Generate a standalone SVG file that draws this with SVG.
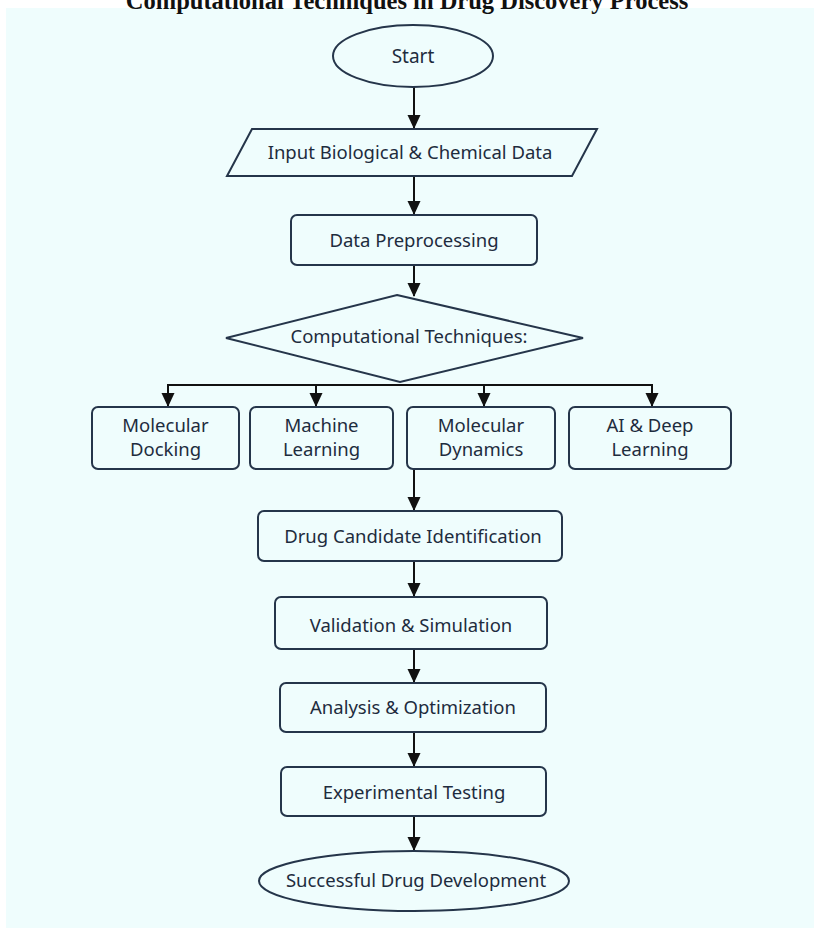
<svg xmlns="http://www.w3.org/2000/svg" width="814" height="929" viewBox="0 0 814 929">
<defs>
<style>
.shape{fill:none;stroke:#25354a;stroke-width:2}
.lbl{font-family:"Noto Sans","Open Sans",sans-serif;font-size:18.5px;fill:#1e2c3e;text-anchor:middle}
.conn{fill:none;stroke:#111;stroke-width:2}
.title{font-family:"Liberation Serif","Times New Roman",serif;font-weight:bold;font-size:24.5px;fill:#111;text-anchor:middle}
</style>
<marker id="ah" markerUnits="userSpaceOnUse" markerWidth="14" markerHeight="14" refX="13" refY="7" orient="auto">
<path d="M0,0.5 L14,7 L0,13.5 z" fill="#111"/>
</marker>
</defs>
<rect x="0" y="0" width="814" height="929" fill="#ffffff"/>
<rect x="6" y="8" width="808" height="920" fill="#effdfd"/>
<text class="title" x="407" y="9">Computational Techniques in Drug Discovery Process</text>

<g id="connectors">
<line class="conn" x1="414" y1="87" x2="414" y2="128" marker-end="url(#ah)"/>
<line class="conn" x1="414" y1="176" x2="414" y2="214" marker-end="url(#ah)"/>
<line class="conn" x1="414" y1="265" x2="414" y2="296" marker-end="url(#ah)"/>
<line class="conn" x1="168" y1="385" x2="652" y2="385"/>
<line class="conn" x1="168" y1="384" x2="168" y2="406" marker-end="url(#ah)"/>
<line class="conn" x1="316" y1="384" x2="316" y2="406" marker-end="url(#ah)"/>
<line class="conn" x1="484" y1="384" x2="484" y2="406" marker-end="url(#ah)"/>
<line class="conn" x1="652" y1="384" x2="652" y2="406" marker-end="url(#ah)"/>
<line class="conn" x1="414" y1="469" x2="414" y2="510" marker-end="url(#ah)"/>
<line class="conn" x1="414" y1="561" x2="414" y2="596" marker-end="url(#ah)"/>
<line class="conn" x1="414" y1="649" x2="414" y2="682" marker-end="url(#ah)"/>
<line class="conn" x1="414" y1="732" x2="414" y2="766" marker-end="url(#ah)"/>
<line class="conn" x1="414" y1="816" x2="414" y2="850" marker-end="url(#ah)"/>
</g>

<g id="start">
<ellipse class="shape" cx="413" cy="56" rx="80" ry="31"/>
<text class="lbl" x="413" y="63" style="font-size:19px">Start</text>
</g>
<g id="input">
<polygon class="shape" points="252,129 597,129 572,176 227,176"/>
<text class="lbl" x="410" y="159">Input Biological &amp; Chemical Data</text>
</g>
<g id="preprocess">
<rect class="shape" x="291" y="215" width="246" height="50" rx="6"/>
<text class="lbl" x="414" y="247">Data Preprocessing</text>
</g>
<g id="techniques">
<polygon class="shape" points="397,295 583,338 400,382 226,338"/>
<text class="lbl" x="409" y="343">Computational Techniques:</text>
</g>
<g id="docking">
<rect class="shape" x="92" y="407" width="147" height="62" rx="6"/>
<text class="lbl" x="165.5" y="432">Molecular</text>
<text class="lbl" x="165.5" y="456">Docking</text>
</g>
<g id="ml">
<rect class="shape" x="250" y="407" width="143" height="62" rx="6"/>
<text class="lbl" x="321.5" y="432">Machine</text>
<text class="lbl" x="321.5" y="456">Learning</text>
</g>
<g id="md">
<rect class="shape" x="407" y="407" width="148" height="62" rx="6"/>
<text class="lbl" x="481" y="432">Molecular</text>
<text class="lbl" x="481" y="456">Dynamics</text>
</g>
<g id="ai">
<rect class="shape" x="569" y="407" width="162" height="62" rx="6"/>
<text class="lbl" x="650" y="432">AI &amp; Deep</text>
<text class="lbl" x="650" y="456">Learning</text>
</g>
<g id="candidate">
<rect class="shape" x="258" y="511" width="304" height="50" rx="6"/>
<text class="lbl" x="413" y="543">Drug Candidate Identification</text>
</g>
<g id="validation">
<rect class="shape" x="275" y="597" width="272" height="52" rx="6"/>
<text class="lbl" x="411" y="632">Validation &amp; Simulation</text>
</g>
<g id="analysis">
<rect class="shape" x="280" y="683" width="266" height="49" rx="6"/>
<text class="lbl" x="413" y="714">Analysis &amp; Optimization</text>
</g>
<g id="experimental">
<rect class="shape" x="281" y="767" width="265" height="49" rx="6"/>
<text class="lbl" x="414" y="799">Experimental Testing</text>
</g>
<g id="end">
<ellipse class="shape" cx="414" cy="881" rx="155" ry="30"/>
<text class="lbl" x="416" y="887">Successful Drug Development</text>
</g>
</svg>
